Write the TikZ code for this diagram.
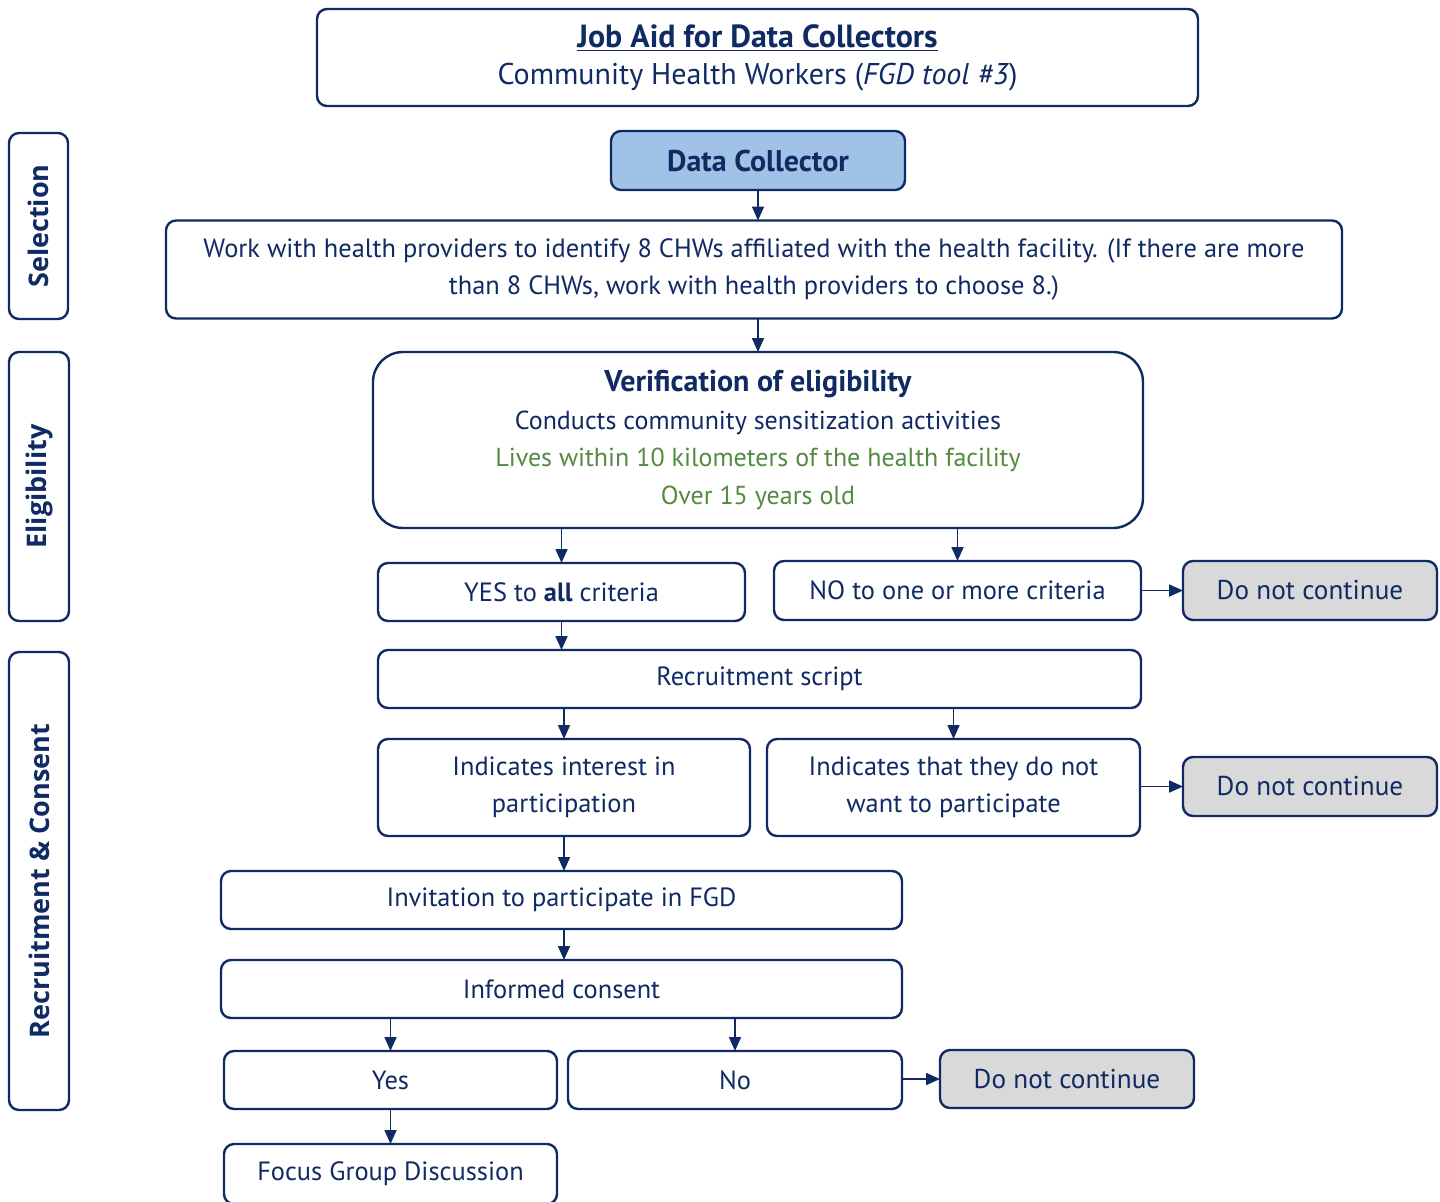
\documentclass[tikz,border=0pt]{standalone}
\usepackage{fontspec}
\setmainfont{PT Sans}
\newfontfamily\sidefont{Open Sans}
\usetikzlibrary{positioning,arrows.meta,shapes}
\definecolor{navy}{RGB}{16,42,100}
\definecolor{okgreen}{RGB}{84,138,66}
\definecolor{dcblue}{RGB}{160,194,230}
\definecolor{stopgray}{RGB}{217,217,217}

\begin{document}
\begin{tikzpicture}[x=0.5pt,y=-0.5pt,
      every node/.style={text=navy, font=\fontsize{13.2pt}{18.5pt}\selectfont},
      box/.style={draw=navy, line width=1.2pt, rounded corners=5pt, fill=white,
                  align=center, inner sep=0pt, outer sep=0pt},
      stopbox/.style={box, fill=stopgray, font=\fontsize{13.6pt}{18.5pt}\selectfont},
      sidebox/.style={box, rotate=90, font=\sidefont\bfseries\fontsize{13.5pt}{15pt}\selectfont},
      arr/.style={draw=navy, line width=0.9pt, -{Triangle[width=6pt,length=7pt]}}]
  \useasboundingbox (0,0) rectangle (1440,1201);
  %.
  \node[box, minimum width=440.5pt, minimum height=48.5pt] (title) at (757.5,57.5)
     {{\fontsize{16pt}{20pt}\selectfont\bfseries\underline{Job Aid for Data Collectors}}\\
      {\fontsize{15pt}{20pt}\selectfont Community Health Workers (\textit{FGD tool \#3})}};
  \node[box, fill=dcblue, minimum width=147pt, minimum height=29.5pt, font=\fontsize{15pt}{16pt}\selectfont\bfseries] (dc) at (758,160.5) {Data Collector};
  \node[box, minimum width=588pt, minimum height=49pt] (work) at (754,269.5)
     {Work with health providers to identify 8 CHWs affiliated with the health facility. (If there are more\\
      than 8 CHWs, work with health providers to choose 8.)};
  \node[box, rounded corners=15pt, minimum width=385pt, minimum height=88pt, font=\fontsize{13pt}{18.75pt}\selectfont] (verif) at (758,440)
     {{\fontsize{15pt}{18.75pt}\selectfont\bfseries Verification of eligibility}\\
      Conducts community sensitization activities\\
      \textcolor{okgreen}{Lives within 10 kilometers of the health facility}\\
      \textcolor{okgreen}{Over 15 years old}};
  \node[box, minimum width=183.5pt, minimum height=29pt] (yes) at (561.5,592) {YES to \textbf{all} criteria};
  \node[box, minimum width=183.5pt, minimum height=29.5pt] (no) at (957.5,590.5) {NO to one or more criteria};
  \node[stopbox, minimum width=127pt, minimum height=29.5pt] (stopa) at (1310,590.5) {Do not continue};
  \node[box, minimum width=381.5pt, minimum height=29pt] (script) at (759.5,679) {Recruitment script};
  \node[box, minimum width=186pt, minimum height=48.5pt] (interest) at (564,787.5) {Indicates interest in\\ participation};
  \node[box, minimum width=186.5pt, minimum height=48.5pt] (notwant) at (953.5,787.5) {Indicates that they do not\\ want to participate};
  \node[stopbox, minimum width=127pt, minimum height=29.5pt] (stopb) at (1310,786.5) {Do not continue};
  \node[box, minimum width=340.5pt, minimum height=29pt] (invite) at (561.5,900) {Invitation to participate in FGD};
  \node[box, minimum width=340.5pt, minimum height=29pt] (consent) at (561.5,989) {Informed consent};
  \node[box, minimum width=166.5pt, minimum height=29pt] (yesb) at (390.5,1080) {Yes};
  \node[box, minimum width=167pt, minimum height=29pt] (nob) at (735,1080) {No};
  \node[stopbox, minimum width=127pt, minimum height=29pt] (stopc) at (1067,1079) {Do not continue};
  \node[box, minimum width=166.5pt, minimum height=30pt] (fgd) at (390.5,1174) {Focus Group Discussion};
  %.
  \node[sidebox, minimum width=93pt, minimum height=29.5pt] (sel) at (38.5,226) {Selection};
  \node[sidebox, minimum width=134.5pt, minimum height=30pt] (elig) at (39,486.5) {Eligibility};
  \node[sidebox, minimum width=229pt, minimum height=30pt] (recr) at (39,881) {Recruitment \& Consent};
  %.
  \draw[arr] (dc.south) -- (dc.south |- work.north);
  \draw[arr] (work.south -| verif.north) -- (verif.north);
  \draw[arr] (verif.south -| yes.north) -- (yes.north);
  \draw[arr] (verif.south -| no.north) -- (no.north);
  \draw[arr] (no.east) -- (stopa.west);
  \draw[arr] (yes.south) -- (yes.south |- script.north);
  \draw[arr] (script.south -| interest.north) -- (interest.north);
  \draw[arr] (script.south -| notwant.north) -- (notwant.north);
  \draw[arr] (notwant.east |- stopb.west) -- (stopb.west);
  \draw[arr] (interest.south) -- (interest.south |- invite.north);
  \draw[arr] (interest.south |- invite.south) -- (interest.south |- consent.north);
  \draw[arr] (consent.south -| yesb.north) -- (yesb.north);
  \draw[arr] (consent.south -| nob.north) -- (nob.north);
  \draw[arr] (nob.east |- stopc.west) -- (stopc.west);
  \draw[arr] (yesb.south) -- (fgd.north);
  %.
\end{tikzpicture}
\end{document}
